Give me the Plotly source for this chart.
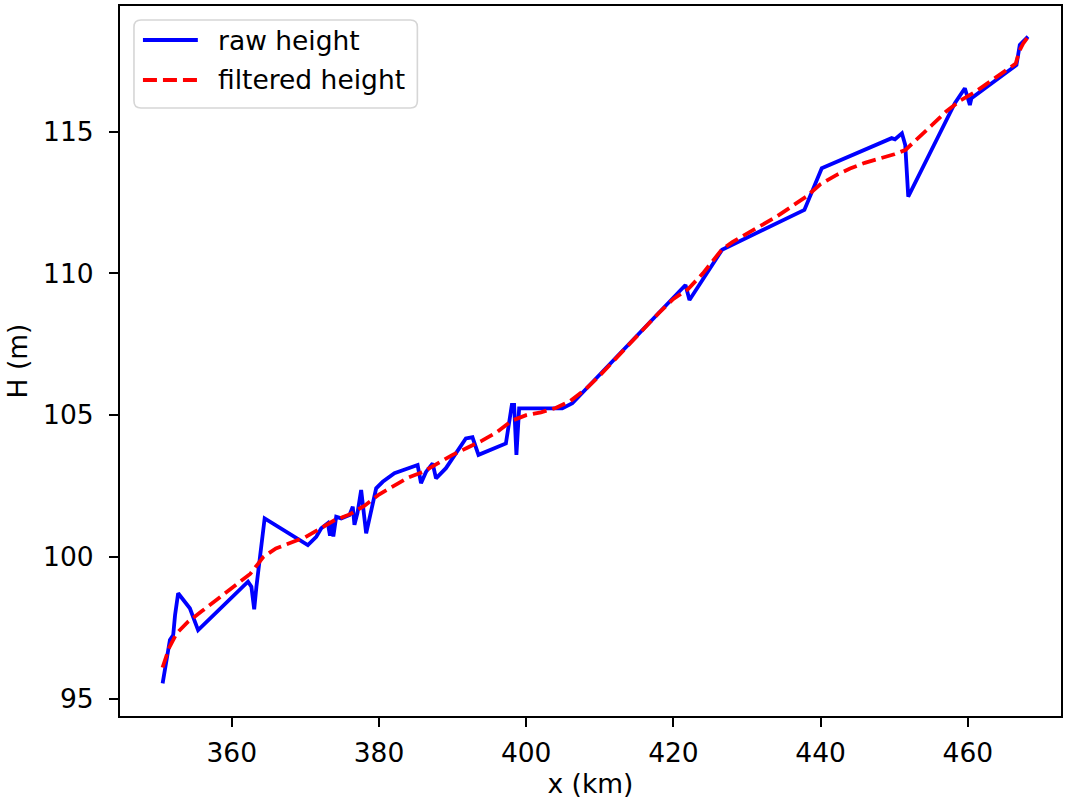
import plotly.graph_objects as go

# Raw height profile along the track (distance in km, height in m)
raw_x = [350.61, 351.60, 352.05, 352.30, 352.72, 354.31, 355.43, 362.21, 362.67, 363.05,
         363.35, 364.47, 370.34, 371.02, 371.48, 372.16, 373.05, 373.35, 373.60, 373.80,
         374.19, 374.87, 376.00, 376.44, 376.67, 377.08, 377.58, 378.26, 379.62, 380.51,
         382.10, 385.25, 385.71, 386.39, 387.29, 387.75, 389.10, 391.80, 392.70, 393.52,
         397.24, 398.05, 398.36, 398.67, 399.04, 404.90, 406.27, 421.64, 422.18, 426.60,
         437.79, 440.15, 449.65, 450.10, 451.04, 451.49, 451.55, 451.90, 458.23, 459.59,
         460.27, 460.49, 466.60, 466.80, 467.05, 468.17]
raw_h = [95.54, 97.07, 97.25, 97.95, 98.72, 98.19, 97.42, 99.13, 98.95, 98.15,
         98.95, 101.36, 100.42, 100.60, 100.71, 101.01, 101.19, 100.75, 101.25, 100.72,
         101.42, 101.36, 101.48, 101.77, 101.13, 101.55, 102.36, 100.83, 102.42, 102.65,
         102.95, 103.24, 102.60, 103.00, 103.30, 102.77, 103.13, 104.18, 104.22, 103.60,
         104.00, 105.36, 105.36, 103.60, 105.24, 105.24, 105.42, 109.59, 109.06, 110.83,
         112.24, 113.71, 114.77, 114.73, 114.94, 114.53, 114.25, 112.71, 116.00, 116.53,
         115.94, 116.18, 117.35, 117.70, 118.06, 118.35]

# Smoothed (filtered) height
filt_x = [350.6, 351.5, 352.5, 354.0, 356.0, 358.0, 360.0, 362.5, 364.3, 366.0,
          368.0, 370.0, 372.0, 374.0, 376.0, 378.0, 380.0, 382.0, 384.0, 386.0,
          388.0, 390.0, 392.0, 394.0, 396.0, 398.0, 400.0, 402.0, 404.0, 406.0,
          408.0, 410.0, 412.0, 414.0, 416.0, 418.0, 420.0, 422.0, 424.0, 426.6,
          428.0, 430.0, 432.0, 434.0, 436.0, 438.0, 440.0, 442.0, 444.0, 446.0,
          448.0, 450.0, 451.5, 453.0, 455.0, 457.0, 459.0, 461.0, 463.0, 465.0,
          466.5, 467.0, 467.5, 468.2]
filt_h = [96.1, 96.8, 97.3, 97.7, 98.1, 98.5, 98.9, 99.4, 100.0, 100.3,
          100.5, 100.7, 101.0, 101.3, 101.5, 101.8, 102.2, 102.5, 102.8, 103.0,
          103.3, 103.6, 103.85, 104.1, 104.4, 104.8, 105.0, 105.1, 105.25, 105.5,
          105.9, 106.4, 106.95, 107.5, 108.05, 108.6, 109.1, 109.45, 110.0, 110.85,
          111.1, 111.4, 111.7, 112.0, 112.35, 112.7, 113.15, 113.45, 113.7, 113.9,
          114.05, 114.2, 114.35, 114.7, 115.2, 115.7, 116.1, 116.4, 116.75, 117.1,
          117.4, 117.85, 118.1, 118.35]

x_ticks = [360, 380, 400, 420, 440, 460]
y_ticks = [95, 100, 105, 110, 115]

series_names = ["raw height", "filtered height"]
series_colors = ["#0000ff", "#ff0000"]
series_dash = ["solid", "14px,6px"]

FONT = "DejaVu Sans"
FS = 26.5
W, H = 1066, 802
ML, MR, MT, MB = 120, 3, 6, 86
PW, PH = W - ML - MR, H - MT - MB


def px(xp):
    """Pixel column -> paper x."""
    return (xp - ML) / PW


def py(yp):
    """Pixel row -> paper y."""
    return (H - MB - yp) / PH


fig = go.Figure()
fig.add_trace(go.Scatter(x=raw_x, y=raw_h, mode="lines", name=series_names[0],
                         showlegend=False,
                         line=dict(color=series_colors[0], width=3.8)))
fig.add_trace(go.Scatter(x=filt_x, y=filt_h, mode="lines", name=series_names[1],
                         showlegend=False,
                         line=dict(color=series_colors[1], width=3.8, dash=series_dash[1])))

# Legend box (rounded frame) with line samples and labels
x0, x1, y0, y1, r = 134, 418, 20, 108, 7
rx, ry = r / PW, r / PH
X0, X1, Y0, Y1 = px(x0), px(x1), py(y1), py(y0)
path = (f"M {X0+rx},{Y0} L {X1-rx},{Y0} Q {X1},{Y0} {X1},{Y0+ry} "
        f"L {X1},{Y1-ry} Q {X1},{Y1} {X1-rx},{Y1} L {X0+rx},{Y1} "
        f"Q {X0},{Y1} {X0},{Y1-ry} L {X0},{Y0+ry} Q {X0},{Y0} {X0+rx},{Y0} Z")
shapes = [dict(type="path", path=path, xref="paper", yref="paper",
               fillcolor="rgba(255,255,255,0.8)", line=dict(color="#d6d6d6", width=1.6),
               layer="above")]
annotations = []
for i, (name, col, dash) in enumerate(zip(series_names, series_colors, series_dash)):
    yrow = 40 + 40 * i
    shapes.append(dict(type="line", xref="paper", yref="paper",
                       x0=px(143), x1=px(198), y0=py(yrow), y1=py(yrow),
                       line=dict(color=col, width=3.8, dash=dash), layer="above"))
    annotations.append(dict(text=name, xref="paper", yref="paper",
                            x=px(216), y=py(yrow), xanchor="left", yanchor="middle",
                            showarrow=False, font=dict(family=FONT, size=FS, color="black")))

axis_common = dict(
    showgrid=False, zeroline=False,
    showline=True, linecolor="black", linewidth=2, mirror=True,
    ticks="outside", ticklen=9, tickwidth=2, tickcolor="black",
    tickfont=dict(family=FONT, size=FS, color="black"),
)

fig.update_layout(
    width=W, height=H,
    margin=dict(l=ML, r=MR, t=MT, b=MB),
    paper_bgcolor="white", plot_bgcolor="white",
    font=dict(family=FONT, size=FS, color="black"),
    xaxis=dict(range=[344.82, 472.65], tickvals=x_ticks, ticklabelstandoff=3,
               title=dict(text="x (km)", font=dict(family=FONT, size=FS), standoff=6),
               **axis_common),
    yaxis=dict(range=[94.39, 119.43], tickvals=y_ticks, ticklabelstandoff=10,
               title=dict(text="H (m)", font=dict(family=FONT, size=FS), standoff=8),
               **axis_common),
    shapes=shapes,
    annotations=annotations,
    showlegend=False,
)

fig.write_html("out.html")
